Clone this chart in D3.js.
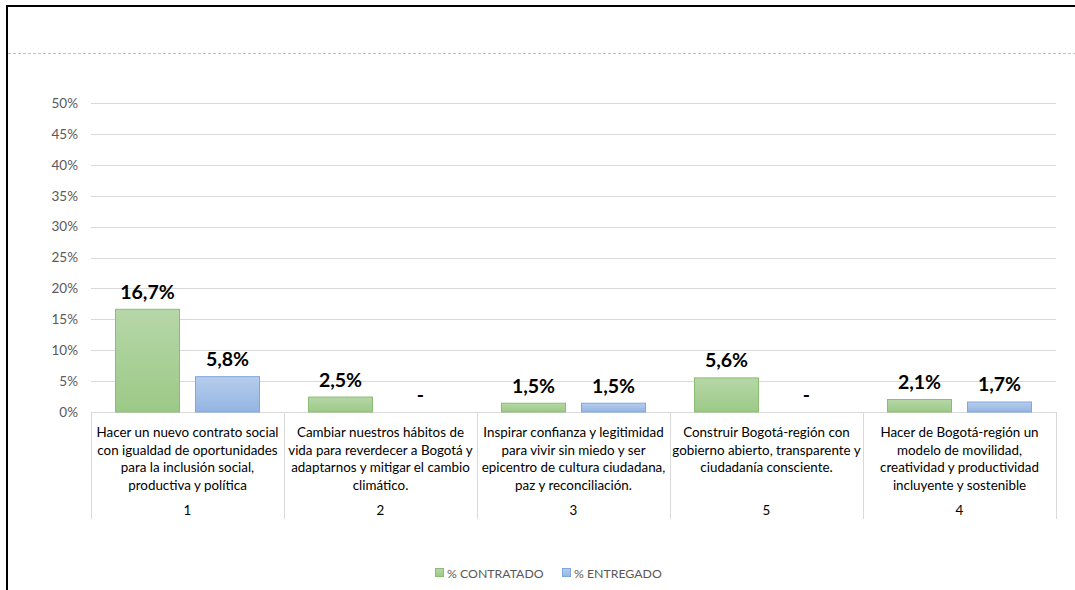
<!DOCTYPE html>
<html>
<head>
<meta charset="utf-8">
<script src="https://cdn.jsdelivr.net/npm/d3@7"></script>
<style>
  body { margin: 0; background: #fff; }
  svg { display: block; font-family: Lato, "Open Sans", sans-serif; }
</style>
</head>
<body>
<div id="chart"></div>
<script>
// data
const categoryIds = ["1", "2", "3", "5", "4"];
const categoryLines = [
  ["Hacer un nuevo contrato social", "con igualdad de oportunidades", "para la inclusión social,", "productiva y política"],
  ["Cambiar nuestros hábitos de", "vida para reverdecer a Bogotá y", "adaptarnos y mitigar el cambio", "climático."],
  ["Inspirar confianza y legitimidad", "para vivir sin miedo y ser", "epicentro de cultura ciudadana,", "paz y reconciliación."],
  ["Construir Bogotá-región con", "gobierno abierto, transparente y", "ciudadanía consciente."],
  ["Hacer de Bogotá-región un", "modelo de movilidad,", "creatividad y productividad", "incluyente y sostenible"]
];
const seriesNames = ["% CONTRATADO", "% ENTREGADO"];
const contratado = [0.167, 0.025, 0.015, 0.056, 0.021];
const entregado = [0.058, 0, 0.015, 0, 0.017];
const yTicks = [0, 0.05, 0.10, 0.15, 0.20, 0.25, 0.30, 0.35, 0.40, 0.45, 0.50];

const width = 1075, height = 590;
const svg = d3.select("#chart").append("svg")
  .attr("width", width)
  .attr("height", height);

// gradients for the bars
const defs = svg.append("defs");
const fills = [
  { id: "gGreen", top: "#b6d7a8", bottom: "#9cc987", stroke: "#8abd72" },
  { id: "gBlue", top: "#b6cdec", bottom: "#93b5e2", stroke: "#7fa7dc" }
];
fills.forEach(f => {
  const g = defs.append("linearGradient").attr("id", f.id)
    .attr("x1", 0).attr("y1", 0).attr("x2", 0).attr("y2", 1);
  g.append("stop").attr("offset", "0%").attr("stop-color", f.top);
  g.append("stop").attr("offset", "100%").attr("stop-color", f.bottom);
});

// frame
svg.append("line").attr("x1", 7).attr("x2", width).attr("y1", 6).attr("y2", 6)
  .attr("stroke", "#000").attr("stroke-width", 2);
svg.append("line").attr("x1", 7).attr("x2", 7).attr("y1", 5).attr("y2", height)
  .attr("stroke", "#000").attr("stroke-width", 2);
svg.append("line").attr("x1", 8).attr("x2", width).attr("y1", 53.5).attr("y2", 53.5)
  .attr("stroke", "#bfbfbf").attr("stroke-dasharray", "3,2");

const x0 = d3.scaleBand().domain(categoryIds).range([91, 1056]).padding(0);
const x1 = d3.scaleBand().domain(seriesNames).range([0, x0.bandwidth()])
  .paddingInner(0.1875).paddingOuter(0.3);
const y = d3.scaleLinear().domain([0, 0.5]).range([412, 103]);

// gridlines
svg.append("g").selectAll("line").data(yTicks).join("line")
  .attr("x1", 91).attr("x2", 1056)
  .attr("y1", d => Math.round(y(d)) + 0.5).attr("y2", d => Math.round(y(d)) + 0.5)
  .attr("stroke", "#d9d9d9").attr("stroke-width", 1);

// y axis labels
const yAxis = svg.append("g").attr("transform", "translate(78,0)")
  .call(d3.axisLeft(y).tickValues(yTicks).tickSize(0).tickPadding(0)
    .tickFormat(d => Math.round(d * 100) + "%"));
yAxis.select(".domain").remove();
yAxis.selectAll("text").attr("fill", "#595959").attr("font-size", 13.5)
  .attr("font-family", "Lato, sans-serif");

// category separators
const bounds = categoryIds.map(c => x0(c)).concat([1056]);
svg.append("g").selectAll("line").data(bounds).join("line")
  .attr("x1", d => Math.round(d) + 0.5).attr("x2", d => Math.round(d) + 0.5)
  .attr("y1", 412).attr("y2", 519)
  .attr("stroke", "#d9d9d9");

// bars
const rows = categoryIds.map((c, i) => [
  { cat: c, s: seriesNames[0], v: contratado[i], fill: "url(#gGreen)", stroke: fills[0].stroke },
  { cat: c, s: seriesNames[1], v: entregado[i], fill: "url(#gBlue)", stroke: fills[1].stroke }
]);
const groups = svg.append("g").selectAll("g").data(rows).join("g")
  .attr("transform", (d, i) => `translate(${x0(categoryIds[i])},0)`);

groups.selectAll("rect").data(d => d.filter(e => e.v > 0)).join("rect")
  .attr("x", d => x1(d.s) + 0.5)
  .attr("y", d => y(d.v) + 0.5)
  .attr("width", x1.bandwidth() - 1)
  .attr("height", d => y(0) - y(d.v) - 0.5)
  .attr("fill", d => d.fill)
  .attr("stroke", d => d.stroke)
  .attr("stroke-width", 1);

const fmt = v => v === 0 ? "-" : (v * 100).toFixed(1).replace(".", ",") + "%";
groups.selectAll("text.val").data(d => d).join("text")
  .attr("class", "val")
  .attr("x", d => x1(d.s) + x1.bandwidth() / 2)
  .attr("y", d => y(d.v) - 10)
  .attr("text-anchor", "middle")
  .attr("font-size", 19.5)
  .attr("font-weight", "bold")
  .attr("fill", "#000")
  .text(d => fmt(d.v));

// category labels
const catLabels = svg.append("g").selectAll("g").data(categoryIds).join("g")
  .attr("transform", d => `translate(${x0(d) + x0.bandwidth() / 2},0)`);
catLabels.each(function(d, i) {
  const g = d3.select(this);
  categoryLines[i].forEach((line, j) => {
    g.append("text").attr("x", 0).attr("y", 437 + j * 17.5)
      .attr("text-anchor", "middle").attr("font-size", 13.4).attr("fill", "#000")
      .text(line);
  });
  g.append("text").attr("x", 0).attr("y", 515)
    .attr("text-anchor", "middle").attr("font-size", 13.4).attr("fill", "#000")
    .text(d);
});

// legend
const legendX = [435, 562];
const legend = svg.append("g").selectAll("g").data(seriesNames).join("g")
  .attr("transform", (d, i) => `translate(${legendX[i]},568)`);
legend.append("rect").attr("x", 0.5).attr("y", 0.5).attr("width", 8).attr("height", 8)
  .attr("fill", (d, i) => i === 0 ? "url(#gGreen)" : "url(#gBlue)")
  .attr("stroke", (d, i) => fills[i].stroke);
legend.append("text").attr("x", 12).attr("y", 9.5)
  .attr("font-size", 12.3).attr("fill", "#595959")
  .text(d => d);
</script>
</body>
</html>
